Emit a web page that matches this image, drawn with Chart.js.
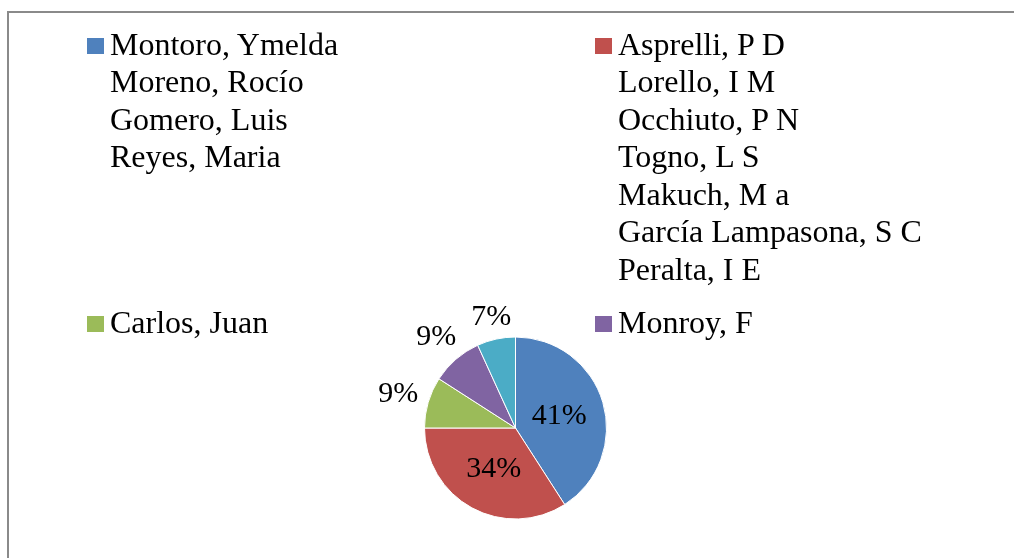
<!DOCTYPE html>
<html>
<head>
<meta charset="utf-8">
<script src="https://cdn.jsdelivr.net/npm/chart.js@4"></script>
<style>
  html, body { margin: 0; padding: 0; background: #fff; }
  body { width: 1014px; height: 558px; position: relative; overflow: hidden; }
  #frame { position: absolute; left: 7px; top: 11px; width: 1100px; height: 700px;
           border-left: 2px solid #8a8a8a; border-top: 2px solid #8a8a8a; box-sizing: border-box; }
  #chart { position: absolute; left: 0; top: 0; }
  .lg { position: absolute; font-family: "Liberation Serif", "Times New Roman", serif;
        font-size: 32px; line-height: 37.5px; color: #000; white-space: pre; }
  .sw { position: absolute; width: 17px; height: 16px; }
</style>
</head>
<body>
<div id="frame"></div>
<canvas id="chart" width="1014" height="558"></canvas>
<div id="legend"></div>
<script>
// ---- data ----
const categories = [
  "Montoro, Ymelda\nMoreno, Rocío\nGomero, Luis\nReyes, Maria",
  "Asprelli, P D\nLorello, I M\nOcchiuto, P N\nTogno, L S\nMakuch, M a\nGarcía Lampasona, S C\nPeralta, I E",
  "Carlos, Juan",
  "Monroy, F",
  ""
];
const values = [18, 15, 4, 4, 3];
const colors = ["#4F81BD", "#C0504D", "#9BBB59", "#8064A2", "#4BACC6"];
const legendShown = [true, true, true, true, false];

// ---- legend (HTML, 2 columns) ----
const colX = [87, 595];
const rowTop = [25.5, 303.5];
const legendEl = document.getElementById('legend');
categories.forEach((name, i) => {
  if (!legendShown[i]) return;
  const col = i % 2, row = Math.floor(i / 2);
  const sw = document.createElement('div');
  sw.className = 'sw';
  sw.style.background = colors[i];
  sw.style.left = colX[col] + 'px';
  sw.style.top = (rowTop[row] + 12.5) + 'px';
  legendEl.appendChild(sw);
  const t = document.createElement('div');
  t.className = 'lg';
  t.textContent = name;
  t.style.left = (colX[col] + 23) + 'px';
  t.style.top = rowTop[row] + 'px';
  legendEl.appendChild(t);
});

// ---- percentage labels ----
const labelPlugin = {
  id: 'sliceLabels',
  afterDatasetsDraw(chart) {
    const ctx = chart.ctx;
    const meta = chart.getDatasetMeta(0);
    const total = values.reduce((a, b) => a + b, 0);
    ctx.save();
    ctx.font = '30px "Liberation Serif", "Times New Roman", serif';
    ctx.fillStyle = '#000';
    ctx.textAlign = 'center';
    ctx.textBaseline = 'middle';
    meta.data.forEach((arc, i) => {
      const p = arc.getProps(['x', 'y', 'startAngle', 'endAngle', 'outerRadius'], true);
      const mid = (p.startAngle + p.endAngle) / 2;
      const frac = values[i] / total;
      const txt = Math.round(frac * 100) + '%';
      const c = Math.cos(mid), s = Math.sin(mid);
      let lx, ly;
      if (frac > 0.2) {
        const r = p.outerRadius * 0.5;
        lx = p.x + c * r; ly = p.y + s * r;
      } else {
        const w = ctx.measureText(txt).width, h = 21;
        const d = p.outerRadius + 9 + Math.abs(c) * w / 2 + Math.abs(s) * h / 2;
        lx = p.x + c * d; ly = p.y + s * d;
      }
      ctx.fillText(txt, lx, ly + 1);
    });
    ctx.restore();
  }
};

new Chart(document.getElementById('chart'), {
  type: 'pie',
  data: {
    labels: categories,
    datasets: [{
      data: values,
      backgroundColor: colors,
      borderColor: '#ffffff',
      borderWidth: 1
    }]
  },
  options: {
    responsive: false,
    animation: false,
    layout: { padding: { left: 424, right: 407, top: 336, bottom: 38 } },
    plugins: { legend: { display: false }, tooltip: { enabled: false } }
  },
  plugins: [labelPlugin]
});
</script>
</body>
</html>
